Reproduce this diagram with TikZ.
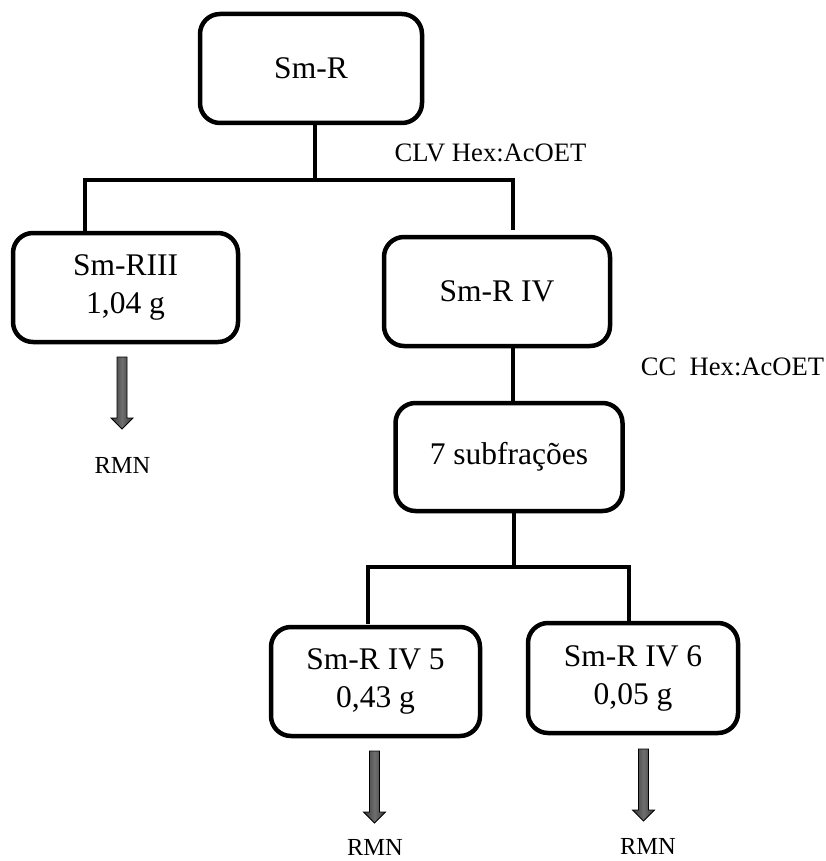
\documentclass[tikz,border=0pt]{standalone}
\usepackage{fontspec}
\setmainfont{Liberation Serif}
\usetikzlibrary{calc}
\definecolor{arrowdark}{RGB}{55,55,55}
\definecolor{arrowmid}{RGB}{110,110,110}
\tikzset{
  x=1pt, y=-1pt,
  stepbox/.style={draw, line width=4.5pt, rounded corners=20pt, align=center,
    inner sep=0pt, font=\fontsize{31.5}{38}\selectfont},
  conn/.style={line width=4.5pt},
  note/.style={anchor=base, inner sep=0pt, font=\fontsize{26.6}{30}\selectfont},
  rmn/.style={anchor=base, inner sep=0pt, font=\fontsize{24.5}{28}\selectfont},
  down arrow/.pic={
    \draw[line width=0.8pt, left color=arrowdark, right color=arrowdark, middle color=arrowmid]
      (-5,0) -- (-5,61) -- (-11,61) -- (0,72) -- (11,61) -- (5,61) -- (5,0) -- cycle;
  }
}
\begin{document}
\begin{tikzpicture}
\useasboundingbox (0,0) rectangle (826,861);

% boxes
\node[stepbox, minimum width=222pt, minimum height=109pt] (smr) at (311,68.5) {Sm-R};
\node[stepbox, minimum width=225pt, minimum height=109pt] (smr3) at (125.5,287.5) {Sm-RIII\\1,04 g};
\node[stepbox, minimum width=226pt, minimum height=109pt] (smr4) at (497,291.5) {Sm-R IV};
\node[stepbox, minimum width=227pt, minimum height=108pt] (sub) at (509,457) {7 subfrações};
\node[stepbox, minimum width=209pt, minimum height=109pt] (smr45) at (375.5,681.5) {Sm-R IV 5\\0,43 g};
\node[stepbox, minimum width=210pt, minimum height=110pt] (smr46) at (633,678) {Sm-R IV 6\\0,05 g};

% separation labels
\node[note] (clv) at (490.5,162) {CLV Hex:AcOET};
\node[note] (cc) at (732.5,375) {CC\ \ Hex:AcOET};

% analysis labels
\node[rmn] (rmn3) at (122.5,473) {RMN};
\node[rmn] (rmn45) at (375,855) {RMN};
\node[rmn] (rmn46) at (648,854.5) {RMN};

% first fork
\coordinate (t1) at (315,180);
\coordinate (t1l) at (85,233);
\coordinate (t1r) at (513,230);
\draw[conn] (smr.south -| t1) -- (t1);
\draw[conn] (t1l) |- (t1) -| (t1r);

% Sm-R IV to subfractions
\draw[conn] (smr4.south -| t1r) -- (sub.north -| t1r);

% second fork
\coordinate (t2) at (514,567);
\coordinate (t2l) at (368,624);
\coordinate (t2r) at (629,623);
\draw[conn] (sub.south -| t2) -- (t2);
\draw[conn] (t2l) |- (t2) -| (t2r);

% arrows to NMR
\pic at (122,357) {down arrow};
\pic at (374.5,751) {down arrow};
\pic at (643.5,749) {down arrow};
\end{tikzpicture}
\end{document}
